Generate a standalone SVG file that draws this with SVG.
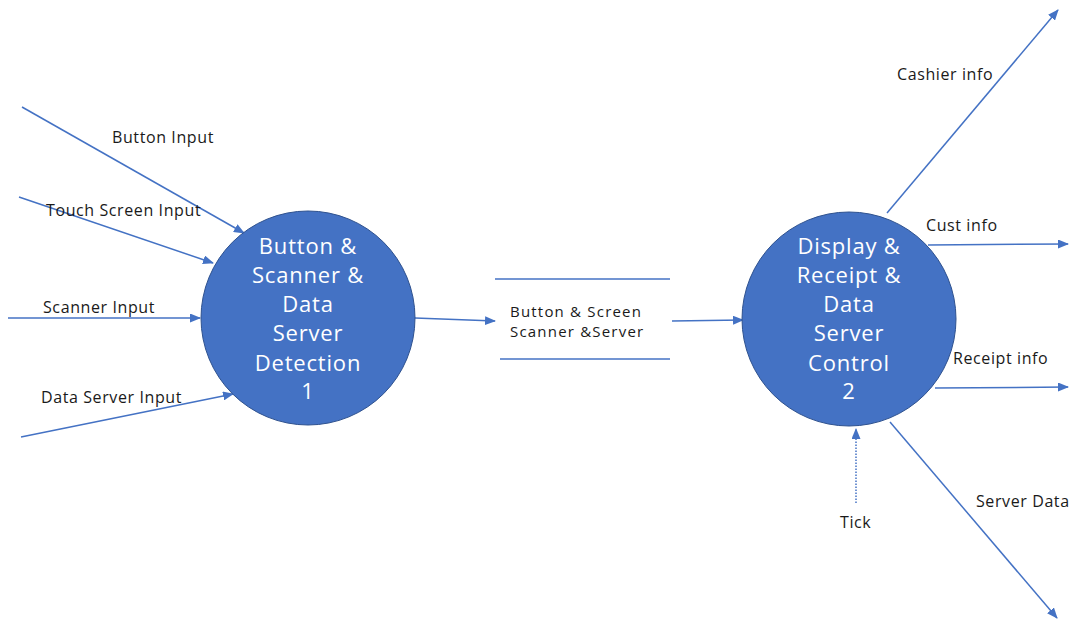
<svg xmlns="http://www.w3.org/2000/svg" width="1076" height="619" viewBox="0 0 1076 619">
<style>
.bg{fill:#ffffff}
.flow{stroke:#4472C4;stroke-width:1.5;fill:none}
.arr{marker-end:url(#ah)}
.dot{stroke-dasharray:1.5 1.5}
.proc{fill:#4472C4;stroke:#2F528F;stroke-width:1}
.ptxt{font-family:"Open Sans","Noto Sans",sans-serif;font-size:22px;letter-spacing:0.8px;fill:#ffffff;text-anchor:middle}
.lbl{font-family:"Open Sans","Noto Sans",sans-serif;font-size:16px;letter-spacing:0.6px;fill:#1a1a1a}
.slbl{font-family:"Open Sans","Noto Sans",sans-serif;font-size:15px;letter-spacing:1.2px;fill:#1a1a1a}
</style>
<defs>
<marker id="ah" markerWidth="11" markerHeight="9" refX="10" refY="4.5" orient="auto" markerUnits="userSpaceOnUse">
<path d="M0,0 L11,4.5 L0,9 Z" fill="#4472C4"/>
</marker>
</defs>
<rect class="bg" x="0" y="0" width="1076" height="619"/>
<g id="connectors">
<line class="flow arr" x1="22" y1="107" x2="244" y2="233"/>
<line class="flow arr" x1="19" y1="197" x2="213" y2="263"/>
<line class="flow arr" x1="8" y1="318" x2="200" y2="318"/>
<line class="flow arr" x1="21" y1="437" x2="233" y2="394"/>
<line class="flow arr" x1="415" y1="318" x2="495" y2="321"/>
<line class="flow arr" x1="672" y1="321" x2="743" y2="320"/>
<line class="flow arr" x1="887" y1="213" x2="1058" y2="10"/>
<line class="flow arr" x1="928" y1="245" x2="1068" y2="244"/>
<line class="flow arr" x1="935" y1="388" x2="1068" y2="387"/>
<line class="flow arr" x1="890" y1="422" x2="1057" y2="618"/>
<line class="flow arr dot" x1="856" y1="503" x2="856" y2="429"/>
</g>
<g id="store">
<line class="flow" x1="495" y1="279" x2="670" y2="279"/>
<line class="flow" x1="500" y1="359" x2="670" y2="359"/>
<text class="slbl" x="510" y="317">Button &amp; Screen</text>
<text class="slbl" x="510" y="337">Scanner &amp;Server</text>
</g>
<g id="p1">
<circle class="proc" cx="308" cy="318" r="107"/>
<text class="ptxt" x="308" y="254">Button &amp;</text>
<text class="ptxt" x="308" y="283">Scanner &amp;</text>
<text class="ptxt" x="308" y="312">Data</text>
<text class="ptxt" x="308" y="341">Server</text>
<text class="ptxt" x="308" y="371">Detection</text>
<text class="ptxt" x="308" y="399">1</text>
</g>
<g id="p2">
<circle class="proc" cx="849" cy="319" r="107"/>
<text class="ptxt" x="849" y="254">Display &amp;</text>
<text class="ptxt" x="849" y="283">Receipt &amp;</text>
<text class="ptxt" x="849" y="312">Data</text>
<text class="ptxt" x="849" y="341">Server</text>
<text class="ptxt" x="849" y="371">Control</text>
<text class="ptxt" x="849" y="399">2</text>
</g>
<g id="labels">
<text class="lbl" x="112" y="143">Button Input</text>
<text class="lbl" x="46" y="216">Touch Screen Input</text>
<text class="lbl" x="43" y="313">Scanner Input</text>
<text class="lbl" x="41" y="403">Data Server Input</text>
<text class="lbl" x="897" y="80">Cashier info</text>
<text class="lbl" x="926" y="231">Cust info</text>
<text class="lbl" x="953" y="364">Receipt info</text>
<text class="lbl" x="976" y="507">Server Data</text>
<text class="lbl" x="840" y="528">Tick</text>
</g>
</svg>
